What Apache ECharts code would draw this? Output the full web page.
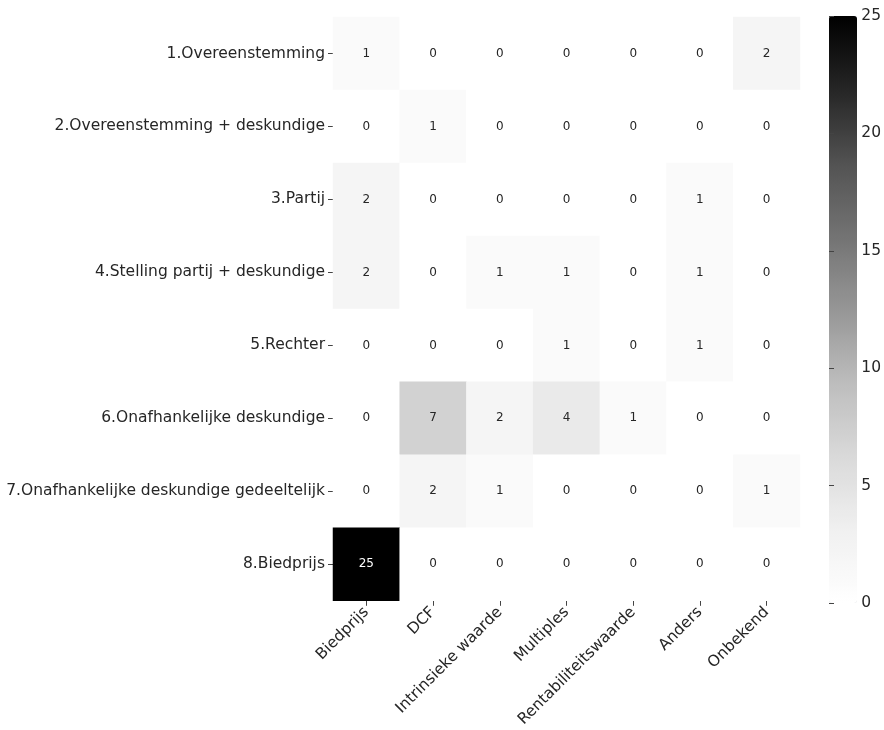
<!DOCTYPE html>
<html><head><meta charset="utf-8">
<script src="https://cdn.jsdelivr.net/npm/echarts@6/dist/echarts.min.js"></script>
<style>html,body{margin:0;padding:0;background:#fff}#c{width:884px;height:730px}</style>
</head><body><div id="c"></div>
<script>
const rowLabels = ['1.Overeenstemming','2.Overeenstemming + deskundige','3.Partij','4.Stelling partij + deskundige','5.Rechter','6.Onafhankelijke deskundige','7.Onafhankelijke deskundige gedeeltelijk','8.Biedprijs'];
const colLabels = ['Biedprijs','DCF','Intrinsieke waarde','Multiples','Rentabiliteitswaarde','Anders','Onbekend'];
const row1 = [1,0,0,0,0,0,2];
const row2 = [0,1,0,0,0,0,0];
const row3 = [2,0,0,0,0,1,0];
const row4 = [2,0,1,1,0,1,0];
const row5 = [0,0,0,1,0,1,0];
const row6 = [0,7,2,4,1,0,0];
const row7 = [0,2,1,0,0,0,1];
const row8 = [25,0,0,0,0,0,0];
const colorbarTicks = [0,5,10,15,20,25];

const rows = [row1,row2,row3,row4,row5,row6,row7,row8];
const data = [];
rows.forEach((r, yi) => r.forEach((v, xi) => {
  data.push({value:[xi, yi, v], label:{color: v > 15 ? '#ffffff' : '#262626'}});
}));
const greys = ['#ffffff','#f0f0f0','#d9d9d9','#bdbdbd','#969696','#737373','#525252','#252525','#000000'];
const FONT = 'DejaVu Sans';
const chart = echarts.init(document.getElementById('c'));
chart.setOption({
  animation:false,
  textStyle:{fontFamily:FONT},
  grid:[
    {left:333, right:84, top:17, bottom:128},
    {left:829, width:28, top:16, height:587}
  ],
  xAxis:[
    {type:'category', gridIndex:0, data:colLabels,
     axisLine:{show:false}, splitLine:{show:false},
     axisTick:{show:true, alignWithLabel:true, length:5, lineStyle:{color:'#444'}},
     axisLabel:{rotate:45, fontSize:15.5, color:'#262626', fontFamily:FONT, margin:9, interval:0}},
    {type:'value', gridIndex:1, show:false, min:0, max:1}
  ],
  yAxis:[
    {type:'category', gridIndex:0, data:rowLabels, inverse:true,
     axisLine:{show:false}, splitLine:{show:false},
     axisTick:{show:true, alignWithLabel:true, length:5, lineStyle:{color:'#444'}},
     axisLabel:{fontSize:15.5, color:'#262626', fontFamily:FONT, margin:8, interval:0}},
    {type:'value', gridIndex:1, position:'right', min:0, max:25, interval:5, z:10,
     axisLine:{show:false}, splitLine:{show:false},
     axisTick:{show:true, length:5, lineStyle:{color:'#444'}},
     axisLabel:{fontSize:15.5, color:'#262626', fontFamily:FONT, margin:7,
       formatter: v => colorbarTicks.includes(v) ? String(v) : ''}}
  ],
  visualMap:{
    type:'continuous', min:0, max:25, seriesIndex:0, calculable:false,
    orient:'vertical', left:829, top:16, itemWidth:28, itemHeight:587,
    padding:0, text:null, showLabel:false, textGap:0, z:1,
    inRange:{color:greys}
  },
  series:[
    {type:'heatmap', xAxisIndex:0, yAxisIndex:0, data:data,
     label:{show:true, fontSize:12, fontFamily:FONT, formatter: p => String(p.value[2])},
     itemStyle:{borderWidth:0}},
    {type:'scatter', xAxisIndex:1, yAxisIndex:1, data:[], silent:true}
  ]
});
</script></body></html>
